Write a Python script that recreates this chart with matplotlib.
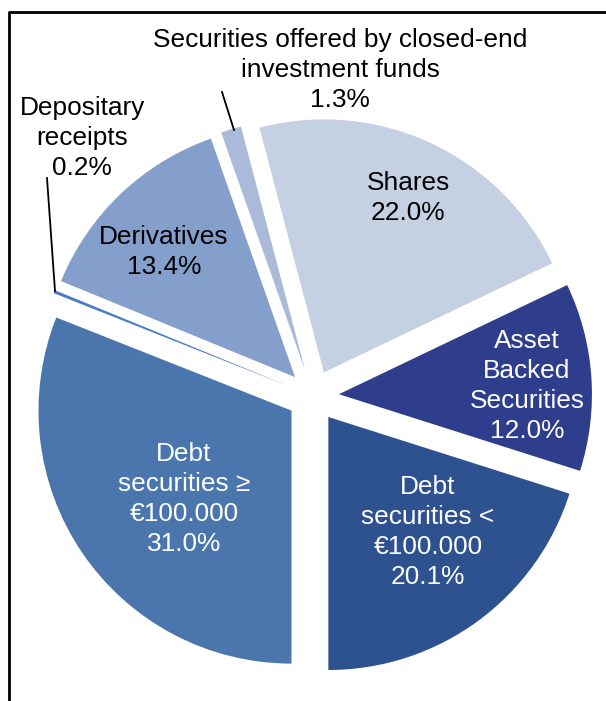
import matplotlib.pyplot as plt

plt.rcParams['font.family'] = ['Liberation Sans', 'DejaVu Sans']

# slices, clockwise starting at 6 o'clock
names = ['Debt\nsecurities ≥\n€100.000', 'Depositary\nreceipts', 'Derivatives',
         'Securities offered by closed-end\ninvestment funds', 'Shares',
         'Asset\nBacked\nSecurities', 'Debt\nsecurities <\n€100.000']
shares_pct = [31.0, 0.2, 13.4, 1.3, 22.0, 12.0, 20.1]
colors = ['#4A76AD', '#4A7DC0', '#859FCC', '#ABBAD9', '#C6D0E3', '#2E3E8D', '#2E5190']
text_colors = ['white', 'black', 'black', 'black', 'black', 'white', 'white']

W, H = 606, 701
fig = plt.figure(figsize=(W / 100, H / 100), dpi=100)
ax = fig.add_axes([0, 0, 1, 1])
ax.axis('off')

# pie geometry in pixel units (explode is absolute in data units)
cx, cy, R = 313, H - 396, 253
ax.pie(shares_pct, colors=colors, startangle=-90, counterclock=False,
       explode=[26] * len(shares_pct), radius=R, center=(cx, cy),
       wedgeprops=dict(linewidth=0), frame=False)
ax.set_xlim(0, W)
ax.set_ylim(0, H)
ax.set_aspect('equal')

# label positions (pixels from top-left)
label_pos = [(184, 499), (82, 138), (164, 252), (340, 70), (408, 198), (527, 386), (428, 532)]
for name, v, (x, y), tc in zip(names, shares_pct, label_pos, text_colors):
    ax.text(x, H - y, f"{name}\n{v:.1f}%", ha='center', va='center',
            fontsize=18.9, color=tc, linespacing=1.33)

# leader lines
ax.plot([222, 234], [H - 92, H - 130], color='black', lw=1.3)
ax.plot([47, 55], [H - 178, H - 291], color='black', lw=1.3)

# frame
ax.plot([9, 9, W + 5], [-5, H - 12, H - 12], color='black', lw=2, clip_on=False)

fig.savefig('out.png', dpi=100)
